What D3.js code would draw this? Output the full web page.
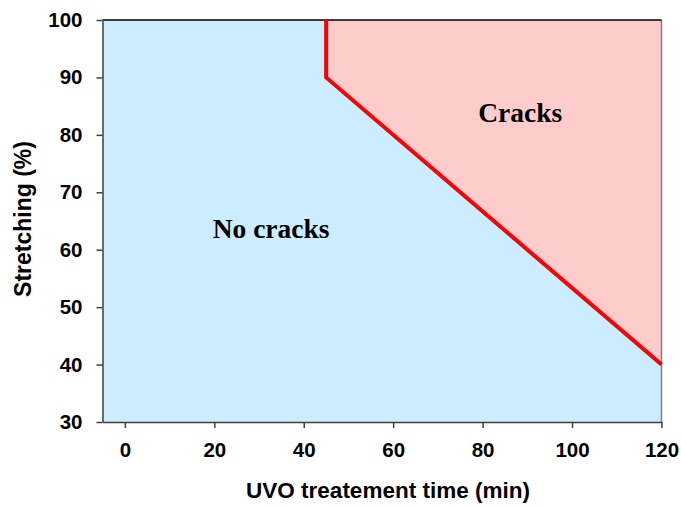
<!DOCTYPE html>
<html>
<head>
<meta charset="utf-8">
<script src="https://cdn.jsdelivr.net/npm/d3@7"></script>
<style>
  html, body { margin: 0; padding: 0; background: #fff; }
  svg { display: block; }
  .tick text { font-family: "Liberation Sans", Arial, sans-serif; font-weight: bold; font-size: 20.5px; fill: #000; }
</style>
</head>
<body>
<svg id="chart" width="681" height="507"></svg>
<script>
// Crack boundary: stretching limit (%) against UVO treatment time (min)
const boundaryTime = [45, 45, 120];
const boundaryStretch = [100, 90, 40];

const xTicks = [0, 20, 40, 60, 80, 100, 120];
const yTicks = [30, 40, 50, 60, 70, 80, 90, 100];
const xDomain = [-5, 120];
const yDomain = [30, 100];

const regionLabels = [
  { text: "Cracks", t: 88.4, s: 82.2 },
  { text: "No cracks", t: 32.7, s: 62.0 }
];

(function () {
  const svg = d3.select("#chart");
  const plotLeft = 102.5, plotRight = 661.5, plotTop = 20, plotBottom = 422;

  const x = d3.scaleLinear().domain(xDomain).range([plotLeft, plotRight]);
  const y = d3.scaleLinear().domain(yDomain).range([plotBottom, plotTop]);

  const boundary = boundaryTime.map((t, i) => [t, boundaryStretch[i]]);

  // "no cracks" background over the whole plot area
  svg.append("rect")
    .attr("x", x(xDomain[0])).attr("y", y(yDomain[1]))
    .attr("width", x(xDomain[1]) - x(xDomain[0]))
    .attr("height", y(yDomain[0]) - y(yDomain[1]))
    .attr("fill", "#CCECFF");

  // "cracks" region: above the boundary, up to the top-right corner
  const crackPoly = boundary.concat([[xDomain[1], yDomain[1]]]);
  svg.append("path")
    .attr("d", d3.line().x(d => x(d[0])).y(d => y(d[1]))(crackPoly) + "Z")
    .attr("fill", "#FFCCCC");

  // Plot frame: right and top edges
  svg.append("line")
    .attr("x1", x(xDomain[1])).attr("x2", x(xDomain[1]))
    .attr("y1", y(yDomain[1])).attr("y2", y(yDomain[0]))
    .attr("stroke", "#808080").attr("stroke-width", 1.5);
  svg.append("line")
    .attr("x1", x(xDomain[0])).attr("x2", x(xDomain[1]))
    .attr("y1", y(yDomain[1])).attr("y2", y(yDomain[1]))
    .attr("stroke", "#000").attr("stroke-width", 1.5);

  // Boundary line
  svg.append("path")
    .datum(boundary)
    .attr("d", d3.line().x(d => x(d[0])).y(d => y(d[1])))
    .attr("fill", "none")
    .attr("stroke", "#FF0000")
    .attr("stroke-width", 4)
    .attr("stroke-linejoin", "miter");

  // Axes
  const xAxis = svg.append("g")
    .attr("transform", `translate(0,${plotBottom})`)
    .call(d3.axisBottom(x).tickValues(xTicks).tickSize(6).tickPadding(14).tickSizeOuter(0));
  const yAxis = svg.append("g")
    .attr("transform", `translate(${plotLeft},0)`)
    .call(d3.axisLeft(y).tickValues(yTicks).tickSize(6).tickPadding(14).tickSizeOuter(0));

  [xAxis, yAxis].forEach(g => {
    g.select(".domain").attr("stroke", "#404040").attr("stroke-width", 1.5);
    g.selectAll(".tick line").attr("stroke", "#404040").attr("stroke-width", 1.5);
  });

  // Region labels
  svg.selectAll("text.region")
    .data(regionLabels)
    .enter().append("text")
    .attr("class", "region")
    .attr("x", d => x(d.t))
    .attr("y", d => y(d.s))
    .attr("text-anchor", "middle")
    .attr("font-family", "'Liberation Serif', 'Times New Roman', serif")
    .attr("font-weight", "bold")
    .attr("font-size", 27.5)
    .attr("fill", "#000")
    .text(d => d.text);

  // Axis titles
  svg.append("text")
    .attr("x", 388).attr("y", 498)
    .attr("text-anchor", "middle")
    .attr("font-family", "'Liberation Sans', Arial, sans-serif")
    .attr("font-weight", "bold").attr("font-size", 22.5)
    .text("UVO treatement time (min)");

  svg.append("text")
    .attr("transform", "translate(31,219) rotate(-90)")
    .attr("text-anchor", "middle")
    .attr("font-family", "'Liberation Sans', Arial, sans-serif")
    .attr("font-weight", "bold").attr("font-size", 23)
    .text("Stretching (%)");
})();
</script>
</body>
</html>
